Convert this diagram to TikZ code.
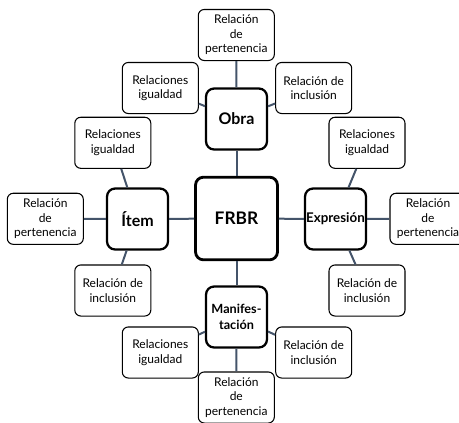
\documentclass[tikz,border=0pt]{standalone}
\usepackage{fontspec}
\setmainfont{Lato}
\usepackage{xcolor}
\definecolor{lnk}{HTML}{44546A}

\begin{document}
\begin{tikzpicture}[x=0.75pt,y=-0.75pt,
    leaf/.style={draw,fill=white,line width=0.8pt,rounded corners=4.5pt,
      minimum width=57pt,minimum height=38.3pt,inner sep=1pt,align=center,
      font=\fontsize{9}{10.9}\selectfont},
    ent/.style={draw,fill=white,line width=1.7pt,rounded corners=6pt,
      minimum width=45.7pt,minimum height=45.7pt,inner sep=0.5pt,align=center,
      font=\bfseries\fontsize{12}{14}\selectfont},
    hub/.style={ent,line width=2.1pt,minimum width=61.5pt,minimum height=62pt,
      font=\bfseries\fontsize{13}{15}\selectfont},
    link/.style={draw=lnk,line width=1.5pt}]
  \useasboundingbox (0,0) rectangle (459,422);

  \node (fr) [hub] at (236.5,218.5) {FRBR};
  \node (ob) [ent] at (236.5,119) {Obra};
  \node (it) [ent] at (137.5,219) {Ítem};
  \node (ex) [ent,font=\bfseries\fontsize{10}{11}\selectfont] at (335.5,219) {Expresión};
  \node (ma) [ent,font=\bfseries\fontsize{9.5}{11.5}\selectfont] at (236.5,317) {Manifes-\\tación};

  \node (obp) [leaf] at (236.3,35) {Relación\\de\\pertenencia};
  \node (obg) [leaf] at (160.3,88) {Relaciones\\igualdad};
  \node (obi) [leaf] at (313.7,88) {Relación de\\inclusión};

  \node (itg) [leaf] at (112.8,142.8) {Relaciones\\igualdad};
  \node (itp) [leaf] at (45.3,218.8) {Relación\\de\\pertenencia};
  \node (iti) [leaf] at (112.8,290.5) {Relación de\\inclusión};

  \node (exg) [leaf] at (367,142.8) {Relaciones\\igualdad};
  \node (exp) [leaf] at (428,218.8) {Relación\\de\\pertenencia};
  \node (exi) [leaf] at (367,290.5) {Relación de\\inclusión};

  \node (mag) [leaf] at (160.3,352.5) {Relaciones\\igualdad};
  \node (mai) [leaf] at (313.7,352.5) {Relación de\\inclusión};
  \node (map) [leaf] at (236.3,397.5) {Relación\\de\\pertenencia};

  \foreach \a in {ob,it,ex,ma}
    \path[link] (fr) -- (\a);
  \foreach \b in {obp,obg,obi}
    \path[link] (ob) -- (\b);
  \foreach \b in {itg,itp,iti}
    \path[link] (it) -- (\b);
  \foreach \b in {exg,exp,exi}
    \path[link] (ex) -- (\b);
  \foreach \b in {mag,mai,map}
    \path[link] (ma) -- (\b);
\end{tikzpicture}
\end{document}
